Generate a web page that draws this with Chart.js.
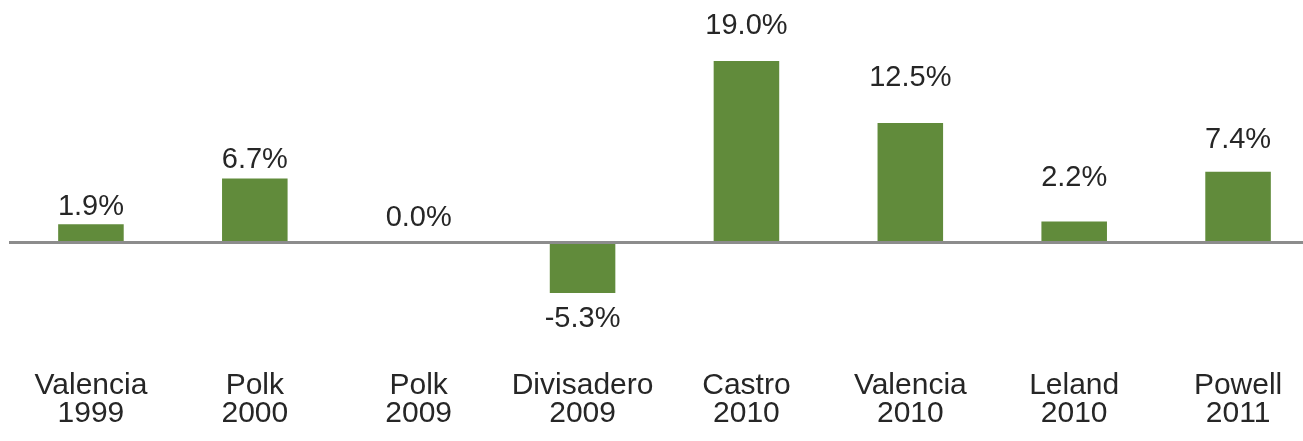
<!DOCTYPE html>
<html>
<head>
<meta charset="utf-8">
<script src="https://cdn.jsdelivr.net/npm/chart.js@4"></script>
<style>
  html, body { margin: 0; padding: 0; background: #fff; overflow: hidden; }
  #wrap { position: relative; width: 1321px; height: 441px; }
</style>
</head>
<body>
<div id="wrap"><canvas id="c"></canvas></div>
<script>
const categories = [
  ["Valencia", "1999"],
  ["Polk", "2000"],
  ["Polk", "2009"],
  ["Divisadero", "2009"],
  ["Castro", "2010"],
  ["Valencia", "2010"],
  ["Leland", "2010"],
  ["Powell", "2011"]
];
const values = [1.9, 6.7, 0.0, -5.3, 19.0, 12.5, 2.2, 7.4];
const valueLabels = ["1.9%", "6.7%", "0.0%", "-5.3%", "19.0%", "12.5%", "2.2%", "7.4%"];
// distance (px) from bar end to label centre, as placed in the original
const labelGap = [17, 18, 24, 26, 35, 45, 43, 32];

const FONT = "'Liberation Sans', Arial, sans-serif";
const TEXT = "#262626";

const valueLabelPlugin = {
  id: "valueLabels",
  afterDatasetsDraw(chart) {
    const ctx = chart.ctx;
    const meta = chart.getDatasetMeta(0);
    ctx.save();
    ctx.font = "29px " + FONT;
    ctx.fillStyle = TEXT;
    ctx.textAlign = "center";
    ctx.textBaseline = "middle";
    meta.data.forEach((bar, i) => {
      const v = values[i];
      const y = v < 0 ? bar.y + labelGap[i] : bar.y - labelGap[i];
      ctx.fillText(valueLabels[i], bar.x, y);
    });
    ctx.restore();
  }
};

new Chart(document.getElementById("c"), {
  type: "bar",
  data: {
    labels: categories,
    datasets: [{
      data: values,
      backgroundColor: "#618B3B",
      borderWidth: 0,
      barPercentage: 0.4,
      categoryPercentage: 1.0
    }]
  },
  options: {
    responsive: true,
    maintainAspectRatio: false,
    animation: false,
    layout: { padding: { left: 9, right: 1, top: 51.4, bottom: 11 } },
    plugins: { legend: { display: false }, tooltip: { enabled: false } },
    scales: {
      x: {
        grid: { display: false, drawTicks: false },
        border: { display: false },
        ticks: {
          padding: 2,
          color: TEXT,
          font: { family: FONT, size: 30, lineHeight: 0.9333 },
          maxRotation: 0,
          autoSkip: false
        }
      },
      y: {
        min: -13.35,
        max: 20,
        border: { display: false },
        grid: {
          drawTicks: false,
          color: (c) => (c.tick && c.tick.value === 0 ? "#8c8c8c" : "rgba(0,0,0,0)"),
          lineWidth: (c) => (c.tick && c.tick.value === 0 ? 3 : 0)
        },
        ticks: { display: false, stepSize: 1 }
      }
    }
  },
  plugins: [valueLabelPlugin]
});
</script>
</body>
</html>
